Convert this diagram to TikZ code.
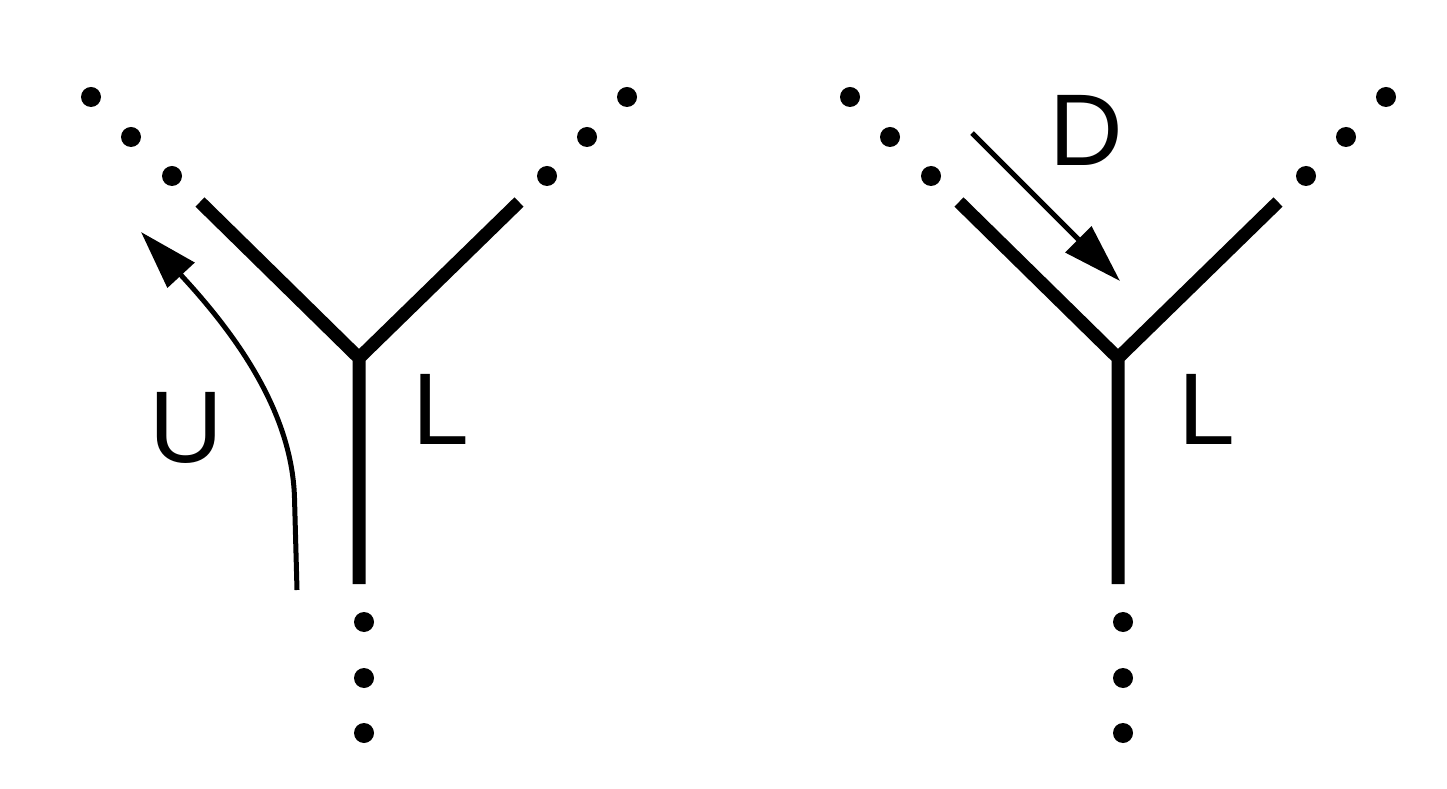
\documentclass[tikz,border=0pt]{standalone}
\usepackage{fontspec}
\setmainfont{Liberation Sans}
\usetikzlibrary{arrows.meta}

\begin{document}
\begin{tikzpicture}[>={Triangle[length=5.9mm,width=3.6mm]},
  arm/.style={line width=1.3mm},
  flow/.style={line width=0.5mm,->},
  ptdot/.style={circle,fill,inner sep=0pt,minimum size=2mm},
  lbl/.style={font=\fontsize{29}{34}\selectfont}]
\useasboundingbox (0,0) rectangle (14.47,7.88);

% --- Y with upward flow ---
\begin{scope}[xshift=0cm]
  \coordinate (ja) at (3.59,4.30);
  \coordinate (la) at (2.00,5.86);
  \coordinate (ra) at (5.19,5.86);
  \coordinate (sa) at (3.59,2.04);
  \draw[arm] (la) -- (ja) -- (ra) (ja) -- (sa);
  \foreach \i/\x/\y in {
    1/1.72/6.12, 2/1.31/6.51, 3/0.91/6.91,
    4/5.47/6.12, 5/5.87/6.51, 6/6.27/6.91,
    7/3.64/1.66, 8/3.64/1.10, 9/3.64/0.55}
    \node[ptdot] (a\i) at (\x,\y) {};
  \node[lbl] (ua) at (1.86,3.60) {U};
  \node[lbl] (lta) at (4.41,3.79) {L};
  \coordinate (u0) at (2.97,1.98);
  \coordinate (u1) at (1.41,5.56);
  \draw[flow] (u0) -- (2.945,2.90) .. controls (2.92,3.80) and (2.30,4.60) .. (u1);
\end{scope}

% --- Y with downward flow ---
\begin{scope}[xshift=7.59cm]
  \coordinate (jb) at (3.59,4.30);
  \coordinate (lb) at (2.00,5.86);
  \coordinate (rb) at (5.19,5.86);
  \coordinate (sb) at (3.59,2.04);
  \draw[arm] (lb) -- (jb) -- (rb) (jb) -- (sb);
  \foreach \i/\x/\y in {
    1/1.72/6.12, 2/1.31/6.51, 3/0.91/6.91,
    4/5.47/6.12, 5/5.87/6.51, 6/6.27/6.91,
    7/3.64/1.66, 8/3.64/1.10, 9/3.64/0.55}
    \node[ptdot] (b\i) at (\x,\y) {};
  \node[lbl] (db) at (3.27,6.58) {D};
  \node[lbl] (ltb) at (4.48,3.79) {L};
  \coordinate (d0) at (2.13,6.55);
  \coordinate (d1) at (3.61,5.07);
  \draw[flow] (d0) -- (d1);
\end{scope}

\end{tikzpicture}
\end{document}
